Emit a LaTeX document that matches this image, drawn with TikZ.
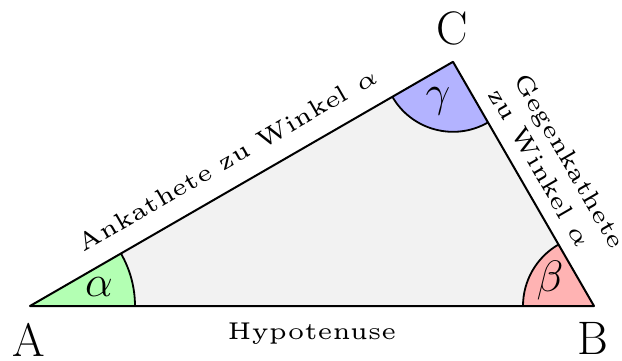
\documentclass[tikz,border=0pt]{standalone}
\usepackage{fix-cm}
\usetikzlibrary{calc}
\definecolor{triFill}{HTML}{F2F2F2}
\definecolor{angAlpha}{HTML}{B3FFB3}
\definecolor{angBeta}{HTML}{FFB3B3}
\definecolor{angGamma}{HTML}{B3B3FF}
\tikzset{
  sidelbl/.style={font=\tiny, scale=2.43, inner sep=0pt},
  vtxlbl/.style={font=\fontsize{23.5}{26}\selectfont, inner sep=0pt},
  anglbl/.style={font=\fontsize{22}{24}\selectfont, inner sep=0pt},
  edgeline/.style={line width=1pt, line join=round},
  arcline/.style={line width=0.9pt}
}
\begin{document}
\begin{tikzpicture}[x=0.5pt,y=0.5pt]
\useasboundingbox (0,0) rectangle (622,360);
\coordinate (A) at (30,54);
\coordinate (B) at (594,54);
\coordinate (C) at (453,298.2);
% triangle fill
\fill[triFill] (A) -- (B) -- (C) -- cycle;
% angle wedges
\fill[angAlpha] (A) -- ($(A)+(0:105)$) arc[start angle=0,end angle=30,radius=105] -- cycle;
\fill[angBeta] (B) -- ($(B)+(120:71)$) arc[start angle=120,end angle=180,radius=71] -- cycle;
\fill[angGamma] (C) -- ($(C)+(210:70)$) arc[start angle=210,end angle=300,radius=70] -- cycle;
\draw[arcline] ($(A)+(0:105)$) arc[start angle=0,end angle=30,radius=105];
\draw[arcline] ($(B)+(120:71)$) arc[start angle=120,end angle=180,radius=71];
\draw[arcline] ($(C)+(210:70)$) arc[start angle=210,end angle=300,radius=70];
% triangle outline
\draw[edgeline] (A) -- (B) -- (C) -- cycle;
% vertex labels
\node[vtxlbl] (lA) at (29,20) {A};
\node[vtxlbl] (lB) at (593,22) {B};
\node[vtxlbl] (lC) at (452,332) {C};
% angle labels
\node[anglbl] (ga) at (99,73) {$\alpha$};
\node[anglbl] (gb) at (550,80) {$\beta$};
\node[anglbl] (gc) at (438,259) {$\gamma$};
% side labels
\node[sidelbl, anchor=base] (hyp) at (312,21) {Hypotenuse};
\node[sidelbl, anchor=base, rotate=30] (ank) at ($($(A)!0.5!(C)$)+(120:19.6)$) {Ankathete zu Winkel $\alpha$};
\coordinate (P0) at ($($(C)!0.5!(B)$)+(120:96.6)$);
\node[sidelbl, anchor=base west, rotate=-60] (geg1) at ($(P0)+(30:43.5)$) {Gegenkathete};
\node[sidelbl, anchor=base west, rotate=-60] (geg2) at ($(P0)+(30:14)$) {zu Winkel $\alpha$};
\end{tikzpicture}
\end{document}
